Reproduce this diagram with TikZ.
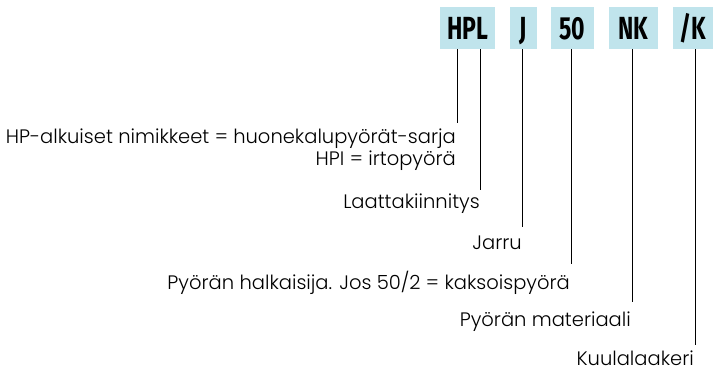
\documentclass[tikz,border=0pt]{standalone}
\usepackage{fontspec}
\setmainfont{Poppins Light}
\newfontfamily\boxfont[FakeStretch=0.72]{Fira Sans}
\definecolor{codeblue}{RGB}{192,228,236}
\begin{document}
\begin{tikzpicture}[x=1pt,y=-1pt,
  codebox/.style={fill=codeblue, inner sep=0pt, minimum height=42pt,
    font=\boxfont\bfseries\fontsize{32}{32}\selectfont, text height=22pt, text depth=0pt},
  lbl/.style={anchor=base east, inner sep=0pt, text depth=0pt, font=\fontsize{19.5}{22}\selectfont},
  conn/.style={draw=black, line width=1pt}]
\useasboundingbox (0,0) rectangle (713,368);
\node[codebox, minimum width=55pt] (hpl) at (467.5,28) {HPL};
\node[codebox, minimum width=27pt] (j) at (523.5,28) {J};
\node[codebox, minimum width=43pt] (n50) at (572.5,28) {50};
\node[codebox, minimum width=49pt] (nk) at (633.5,28) {NK};
\node[codebox, minimum width=40pt] (k) at (693,28) {/K};

\node[lbl] (l1) at (456,143) {HP-alkuiset nimikkeet = huonekalupyörät-sarja};
\node[lbl] (l1b) at (456,165) {HPI = irtopyörä};
\node[lbl] (l2) at (480,208) {Laattakiinnitys};
\node[lbl] (l3) at (522,249) {Jarru};
\node[lbl] (l4) at (570,289) {Pyörän halkaisija. Jos 50/2 = kaksoispyörä};
\node[lbl] (l5) at (631,326) {Pyörän materiaali};
\node[lbl] (l6) at (694,365) {Kuulalaakeri};

\coordinate (e1) at (457,123);
\coordinate (e2) at (480,190);
\coordinate (e3) at (522,227);
\coordinate (e4) at (571,264);
\coordinate (e5) at (632,302);
\coordinate (e6) at (695,345);
\draw[conn] (hpl.south -| e1) -- (e1);
\draw[conn] (hpl.south -| e2) -- (e2);
\draw[conn] (j.south -| e3) -- (e3);
\draw[conn] (n50.south -| e4) -- (e4);
\draw[conn] (nk.south -| e5) -- (e5);
\draw[conn] (k.south -| e6) -- (e6);
\end{tikzpicture}
\end{document}
